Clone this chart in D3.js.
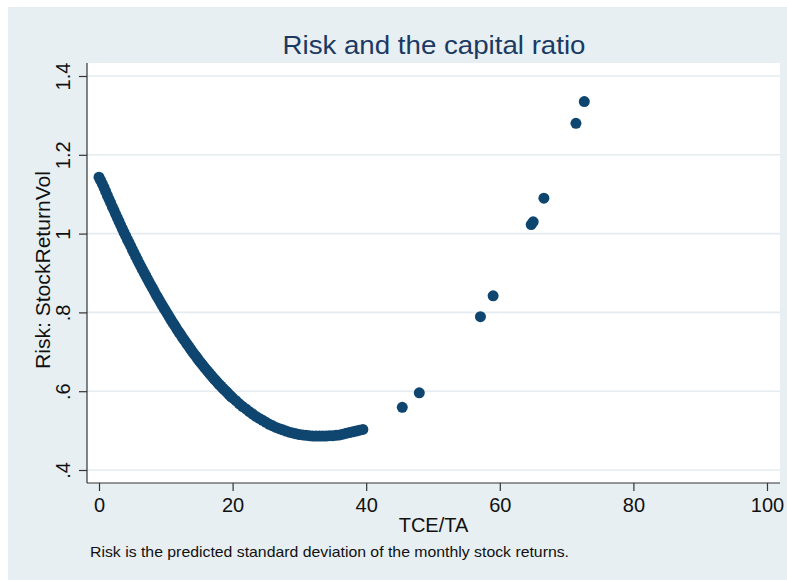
<!DOCTYPE html>
<html>
<head>
<meta charset="utf-8">
<script src="https://cdn.jsdelivr.net/npm/d3@7"></script>
<style>
  body { margin: 0; background: #ffffff; }
  svg { display: block; }
  text { font-family: "Liberation Sans", Arial, sans-serif; }
</style>
</head>
<body>
<svg id="chart" width="787" height="580"></svg>
<script>
// ---- data ----
const curveX = [0,0.25,0.5,0.75,1,1.25,1.5,1.75,2,2.25,2.5,2.75,3,3.25,3.5,3.75,4,4.25,4.5,4.75,
  5,5.25,5.5,5.75,6,6.25,6.5,6.75,7,7.25,7.5,7.75,8,8.25,8.5,8.75,9,9.25,9.5,9.75,
  10,10.25,10.5,10.75,11,11.25,11.5,11.75,12,12.25,12.5,12.75,13,13.25,13.5,13.75,14,14.25,14.5,14.75,
  15,15.25,15.5,15.75,16,16.25,16.5,16.75,17,17.25,17.5,17.75,18,18.25,18.5,18.75,19,19.25,19.5,19.75,
  20,20.5,21,21.5,22,22.5,23,23.5,24,24.5,25,25.5,26,26.5,27,27.5,28,28.5,29,29.5,
  30,30.5,31,31.5,32,32.5,33,33.5,34,34.5,35,35.5,36,36.5,37,37.5,38,38.5,39,39.5];
const curveY = [1.143,1.135,1.126,1.117,1.107,1.097,1.087,1.078,1.068,1.059,1.049,1.040,1.031,1.021,1.012,1.003,0.994,0.985,0.977,0.968,
  0.959,0.951,0.942,0.934,0.925,0.917,0.909,0.901,0.893,0.885,0.877,0.869,0.862,0.854,0.846,0.839,0.832,0.824,0.817,0.810,
  0.803,0.796,0.789,0.782,0.775,0.769,0.762,0.755,0.749,0.743,0.736,0.730,0.724,0.718,0.712,0.706,0.700,0.694,0.689,0.683,
  0.677,0.672,0.667,0.661,0.656,0.651,0.646,0.641,0.636,0.631,0.627,0.622,0.617,0.613,0.608,0.604,0.600,0.596,0.591,0.587,
  0.583,0.576,0.568,0.561,0.555,0.548,0.542,0.536,0.531,0.526,0.521,0.516,0.512,0.508,0.505,0.502,0.499,0.496,0.494,0.492,
  0.490,0.489,0.488,0.487,0.486,0.486,0.486,0.486,0.486,0.487,0.487,0.488,0.489,0.491,0.493,0.495,0.497,0.499,0.501,0.503];
const pointX = [45.4, 47.95, 57.1, 59.0, 64.7, 65.0, 66.6, 71.4, 72.65];
const pointY = [0.559, 0.596, 0.789, 0.842, 1.023, 1.030, 1.090, 1.280, 1.335];
const xTicks = [0, 20, 40, 60, 80, 100];
const yTicks = [0.4, 0.6, 0.8, 1.0, 1.2, 1.4];
const yTickLabels = [".4", ".6", ".8", "1", "1.2", "1.4"];
const titleText = "Risk and the capital ratio";
const xTitle = "TCE/TA";
const yTitle = "Risk: StockReturnVol";
const noteText = "Risk is the predicted standard deviation of the monthly stock returns.";

// ---- drawing ----
const svg = d3.select("#chart");
const navy = "#0f4670";
const plotL = 87, plotR = 780, plotT = 63, plotB = 483;

svg.append("rect").attr("x", 8).attr("y", 7).attr("width", 779).attr("height", 573).attr("fill", "#e7eff2");
svg.append("rect").attr("x", plotL).attr("y", plotT).attr("width", plotR - plotL).attr("height", plotB - plotT).attr("fill", "#ffffff");

const x = d3.scaleLinear().domain([0, 100]).range([99, 767]);
const y = d3.scaleLinear().domain([0.4, 1.4]).range([470, 76]);

// gridlines
svg.append("g").selectAll("line").data(yTicks).join("line")
  .attr("x1", plotL).attr("x2", plotR)
  .attr("y1", d => y(d)).attr("y2", d => y(d))
  .attr("stroke", "#e4ecef").attr("stroke-width", 1.6);

// y axis
const yAxis = d3.axisLeft(y).tickValues(yTicks).tickSize(8).tickPadding(6)
  .tickFormat((d, i) => yTickLabels[i]);
const gy = svg.append("g").attr("transform", `translate(${plotL},0)`).call(yAxis);
gy.select(".domain").attr("d", `M0,${plotT}V${plotB}`).attr("stroke", "#333").attr("stroke-width", 1.2);
gy.selectAll(".tick line").attr("stroke", "#333").attr("stroke-width", 1.2);
gy.selectAll(".tick text")
  .attr("font-size", 20).attr("fill", "#111")
  .attr("text-anchor", "middle")
  .attr("x", null).attr("dy", null)
  .attr("transform", "translate(-17,0) rotate(-90)");

// x axis
const xAxis = d3.axisBottom(x).tickValues(xTicks).tickSize(8).tickPadding(7).tickFormat(d3.format("d"));
const gx = svg.append("g").attr("transform", `translate(0,${plotB})`).call(xAxis);
gx.select(".domain").attr("d", `M${plotL},0H${plotR}`).attr("stroke", "#333").attr("stroke-width", 1.2);
gx.selectAll(".tick line").attr("stroke", "#333").attr("stroke-width", 1.2);
gx.selectAll(".tick text").attr("font-size", 20).attr("fill", "#111");

// points
const curve = curveX.map((d, i) => [d, curveY[i]]);
const pts = pointX.map((d, i) => [d, pointY[i]]);
svg.append("g").selectAll("circle").data(curve.concat(pts)).join("circle")
  .attr("cx", d => x(d[0])).attr("cy", d => y(d[1])).attr("r", 5.5)
  .attr("fill", navy);

// titles
svg.append("text").attr("x", 434).attr("y", 53.5).attr("text-anchor", "middle")
  .attr("font-size", 26).attr("fill", "#1b3a63")
  .attr("textLength", 303).attr("lengthAdjust", "spacingAndGlyphs")
  .text(titleText);
svg.append("text").attr("x", 433.5).attr("y", 532).attr("text-anchor", "middle")
  .attr("font-size", 20).attr("fill", "#111").text(xTitle);
svg.append("text").attr("transform", "translate(50,270) rotate(-90)").attr("text-anchor", "middle")
  .attr("font-size", 20).attr("fill", "#111")
  .attr("textLength", 198).attr("lengthAdjust", "spacingAndGlyphs")
  .text(yTitle);
svg.append("text").attr("x", 90).attr("y", 557).attr("font-size", 15).attr("fill", "#111")
  .attr("textLength", 479).attr("lengthAdjust", "spacingAndGlyphs")
  .text(noteText);
</script>
</body>
</html>
